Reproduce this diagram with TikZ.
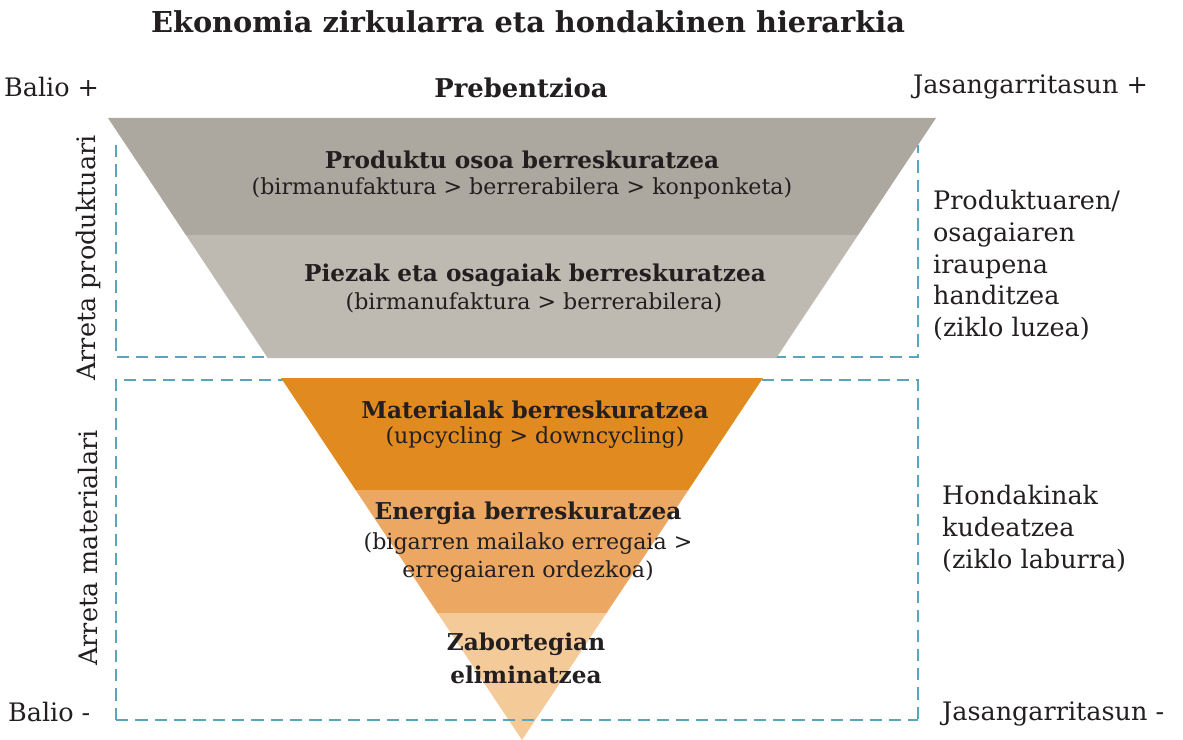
\documentclass[tikz,border=0pt]{standalone}
\usepackage{fontspec}
\setmainfont{DejaVu Serif}
\definecolor{greyA}{HTML}{ACA89F}
\definecolor{greyB}{HTML}{BEBAB2}
\definecolor{orangeA}{HTML}{E18A1F}
\definecolor{orangeB}{HTML}{ECA862}
\definecolor{orangeC}{HTML}{F5CA99}
\definecolor{teal}{HTML}{5AA5BA}
\definecolor{ink}{HTML}{231F20}
\tikzset{
  bandtitle/.style={font=\fontsize{13.2}{15}\selectfont\bfseries, text=ink, inner sep=1pt},
  bandnote/.style={font=\fontsize{12.6}{15}\selectfont, text=ink, inner sep=1pt, align=center},
  sidetext/.style={font=\fontsize{14.5}{18.1}\selectfont, text=ink, inner sep=1pt, align=left},
  boxline/.style={teal, line width=1.1pt, dash pattern=on 7pt off 4pt}
}
\begin{document}
\begin{tikzpicture}[x=0.02cm,y=-0.02cm]
  \useasboundingbox (0,0) rectangle (1183,740);

  % Title and top labels
  \node (title) [font=\fontsize{16.4}{19}\selectfont\bfseries, text=ink] at (528,22) {Ekonomia zirkularra eta hondakinen hierarkia};
  \node (valplus) [sidetext, anchor=west] at (2,87) {Balio +};
  \node (prev) [bandtitle, font=\fontsize{14.7}{17}\selectfont\bfseries] at (521,88) {Prebentzioa};
  \node (susplus) [sidetext, anchor=east] at (1150,87) {Jasangarritasun +};

  % Dashed boxes behind the funnel
  \draw [boxline] (116,145) -- (116,357) -- (918,357) -- (918,145);
  \draw [boxline] (116,720) -- (116,380) -- (918,380) -- (918,720);

  % Funnel bands
  \foreach \ya/\yb/\col in {118/235/greyA, 235/358/greyB, 378/490/orangeA, 490/613/orangeB, 613/740/orangeC} {
    \fill [\col] ({108+0.6656*(\ya-118)},\ya) -- ({936-0.6656*(\ya-118)},\ya)
      -- ({936-0.6656*(\yb-118)},\yb) -- ({108+0.6656*(\yb-118)},\yb) -- cycle;
  }

  % Bottom edge of the lower box lies over the tip
  \draw [boxline] (116,720) -- (918,720);

  % Band texts
  \node (prodT) [bandtitle] at (522,160) {Produktu osoa berreskuratzea};
  \node (prodN) [bandnote] at (522,188) {(birmanufaktura > berrerabilera > konponketa)};
  \node (pieceT) [bandtitle] at (535,275) {Piezak eta osagaiak berreskuratzea};
  \node (pieceN) [bandnote] at (534,303) {(birmanufaktura > berrerabilera)};
  \node (matT) [bandtitle] at (535,410) {Materialak berreskuratzea};
  \node (matN) [bandnote] at (535,438) {(upcycling > downcycling)};
  \node (enT) [bandtitle] at (528,513) {Energia berreskuratzea};
  \node (enN) [bandnote, font=\fontsize{12.6}{15.9}\selectfont] at (528,558) {(bigarren mailako erregaia >\\erregaiaren ordezkoa)};
  \node (landT) [bandtitle, align=center, font=\fontsize{13.2}{18.7}\selectfont\bfseries] at (526,658) {Zabortegian\\eliminatzea};

  % Side labels
  \node (focusP) [sidetext, rotate=90] at (88,258) {Arreta produktuari};
  \node (focusM) [sidetext, rotate=90] at (88,548) {Arreta materialari};
  \node (longC) [sidetext, anchor=north west] at (931,188) {Produktuaren/\\osagaiaren\\iraupena\\handitzea\\(ziklo luzea)};
  \node (shortC) [sidetext, anchor=north west] at (940,483) {Hondakinak\\kudeatzea\\(ziklo laburra)};
  \node (valmin) [sidetext, anchor=west] at (6,712) {Balio -};
  \node (susmin) [sidetext, anchor=west] at (940,714) {Jasangarritasun -};
\end{tikzpicture}
\end{document}
